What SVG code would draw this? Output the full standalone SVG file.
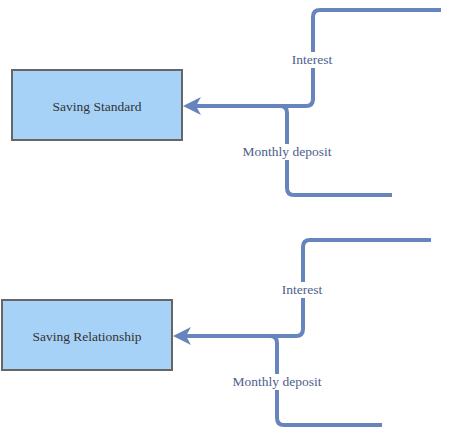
<svg xmlns="http://www.w3.org/2000/svg" width="453" height="436" viewBox="0 0 453 436">
<style>
.box{fill:#a6d2f7;stroke:#666;stroke-width:2}
.t{font-family:'Liberation Serif','DejaVu Serif',serif;font-size:13.5px;fill:#333;text-anchor:middle}
.c{fill:none;stroke:#6884bc;stroke-width:4;stroke-linecap:butt;stroke-linejoin:round}
.lb{fill:#fff}
.lt{fill:#4d5e8c}
.ah{fill:#6884bc}
</style>
<rect width="453" height="436" fill="#fff"/>
<g id="node-standard"><rect class="box" x="12" y="70" width="170" height="70"/><text class="t" x="97" y="111">Saving Standard</text></g>
<g id="node-relationship"><rect class="box" x="2" y="300" width="170" height="70"/><text class="t" x="87" y="341">Saving Relationship</text></g>
<g id="connectors">
<path class="c" d="M441 10 H320 Q313 10 313 17 V99 Q313 106 306 106 H196"/>
<path class="c" d="M392 195 H294 Q287 195 287 188 V113 Q287 106 280 106"/>
<path class="ah" d="M183 106 L201 97 L196 106 L201 115 Z"/>
<rect class="lb" x="289" y="52" width="46" height="16"/>
<text class="t lt" x="312" y="64">Interest</text>
<rect class="lb" x="239" y="144" width="96" height="16"/>
<text class="t lt" x="287" y="156">Monthly deposit</text>
<path class="c" d="M431 240 H310 Q303 240 303 247 V329 Q303 336 296 336 H186"/>
<path class="c" d="M382 425 H284 Q277 425 277 418 V343 Q277 336 270 336"/>
<path class="ah" d="M173 336 L191 327 L186 336 L191 345 Z"/>
<rect class="lb" x="279" y="282" width="46" height="16"/>
<text class="t lt" x="302" y="294">Interest</text>
<rect class="lb" x="229" y="374" width="96" height="16"/>
<text class="t lt" x="277" y="386">Monthly deposit</text>
</g>
</svg>
